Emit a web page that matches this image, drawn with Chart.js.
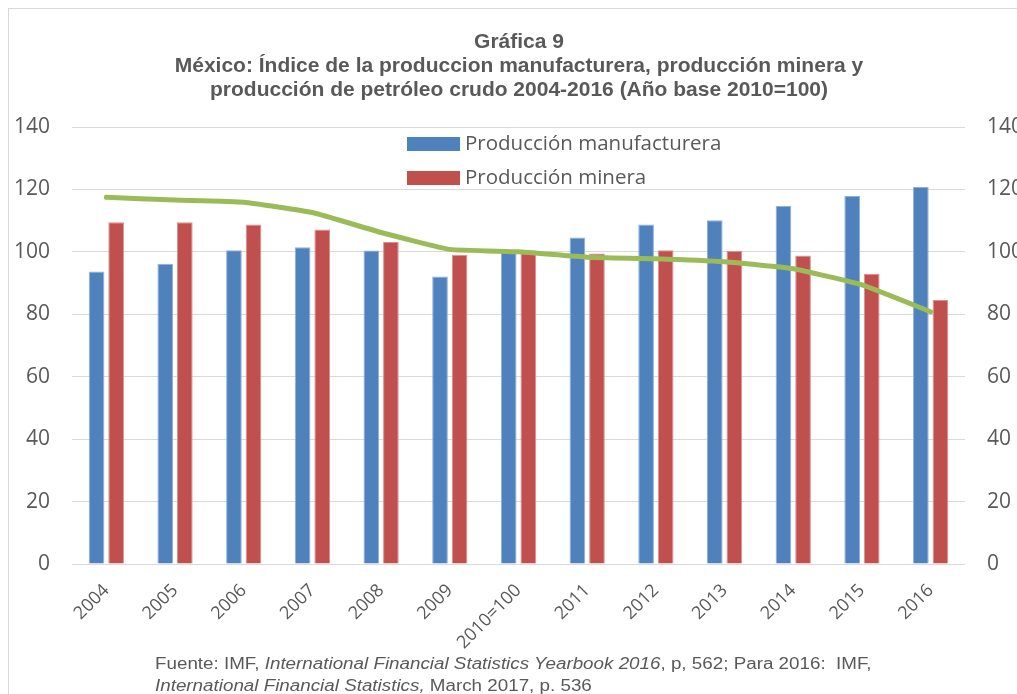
<!DOCTYPE html>
<html lang="es">
<head>
<meta charset="utf-8">
<title>Gráfica 9</title>
<script src="https://cdn.jsdelivr.net/npm/chart.js@4/dist/chart.umd.min.js"></script>
<style>
  html, body { margin: 0; padding: 0; background: #fff; overflow: hidden; }
  body { width: 1017px; height: 694px; position: relative; }
  #frame {
    position: absolute; left: 8px; top: 8px;
    width: 1060px; height: 700px;
    border-left: 1px solid #d9d9d9; border-top: 1px solid #d9d9d9;
  }
  #frame canvas { display: block; }
  #fuente {
    position: absolute; left: 155px; top: 653px;
    font: 16px "Liberation Sans", Arial, sans-serif;
    line-height: 22px; color: #595959; white-space: nowrap;
    transform: scaleX(1.175); transform-origin: left top;
  }
</style>
</head>
<body>
<div id="frame"><canvas id="chart" width="1060" height="700"></canvas></div>
<div id="fuente">Fuente: IMF, <i>International Financial Statistics Yearbook 2016</i>, p, 562; Para 2016:&nbsp; IMF,<br><i>International Financial Statistics,</i> March 2017, p. 536</div>
<script>
// Años (2010 es el año base)
const categorias = ['2004', '2005', '2006', '2007', '2008', '2009', '2010=100',
                    '2011', '2012', '2013', '2014', '2015', '2016'];

// Índices, base 2010 = 100
const manufacturera = [93.7, 96.2, 100.5, 101.5, 100.4, 92.1, 100, 104.6, 108.8, 110.1, 114.7, 117.9, 120.8];
const minera        = [109.5, 109.5, 108.8, 107.2, 103.2, 99.1, 100, 99.5, 100.5, 100.3, 98.8, 93.0, 84.6];
const petroleo      = [117.5, 116.6, 115.9, 112.6, 106.2, 100.8, 100, 98.3, 97.8, 96.8, 94.6, 89.4, 80.8];

// Marcas del eje vertical
const ticksEje = [0, 20, 40, 60, 80, 100, 120, 140];

const titulo = [
  'Gráfica 9',
  'México: Índice de la produccion manufacturera, producción minera y',
  'producción de petróleo crudo 2004-2016 (Año base 2010=100)'
];

const GRIS = '#595959';

// Leyenda dentro del área del gráfico, solo para las series de barras
const leyendaInterna = {
  id: 'leyendaInterna',
  afterDraw(chart) {
    const ctx = chart.ctx;
    const area = chart.chartArea;
    const x0 = area.left + 335;
    let y = area.top + 17;
    ctx.save();
    ctx.font = '20.5px "Open Sans", sans-serif';
    ctx.textBaseline = 'middle';
    ctx.textAlign = 'left';
    chart.data.datasets.forEach(ds => {
      if (ds.type !== 'bar') return;
      ctx.fillStyle = ds.backgroundColor;
      ctx.fillRect(x0, y - 7, 53, 14);
      ctx.fillStyle = GRIS;
      ctx.fillText(ds.label, x0 + 58, y);
      y += 34;
    });
    ctx.restore();
  }
};

new Chart(document.getElementById('chart'), {
  data: {
    labels: categorias,
    datasets: [
      {
        type: 'line',
        label: 'Producción de petróleo crudo',
        data: petroleo,
        yAxisID: 'y1',
        borderColor: '#9BBB59',
        borderWidth: 5,
        borderCapStyle: 'round',
        borderJoinStyle: 'round',
        pointRadius: 0,
        tension: 0.12,
        fill: false,
        order: 0
      },
      {
        type: 'bar',
        label: 'Producción manufacturera',
        data: manufacturera,
        yAxisID: 'y',
        backgroundColor: '#4F81BD',
        borderColor: '#8DB0DB',
        borderWidth: { top: 1, left: 1, right: 1, bottom: 0 },
        categoryPercentage: 0.57,
        barPercentage: 0.8,
        order: 1
      },
      {
        type: 'bar',
        label: 'Producción minera',
        data: minera,
        yAxisID: 'y',
        backgroundColor: '#C0504D',
        borderColor: '#DB8F8D',
        borderWidth: { top: 1, left: 1, right: 1, bottom: 0 },
        categoryPercentage: 0.57,
        barPercentage: 0.8,
        order: 1
      }
    ]
  },
  options: {
    responsive: false,
    animation: false,
    layout: { padding: { top: 21, left: 0, right: 40, bottom: 0 } },
    plugins: {
      legend: { display: false },
      tooltip: { enabled: false },
      title: {
        display: true,
        text: titulo,
        color: GRIS,
        font: { family: '"Liberation Sans", Arial, sans-serif', size: 21, weight: 'bold', lineHeight: 1.143 },
        padding: { top: 0, bottom: 25 }
      }
    },
    scales: {
      x: {
        grid: { display: false },
        border: { display: false },
        ticks: {
          autoSkip: false,
          maxRotation: 45,
          minRotation: 45,
          padding: 8,
          color: GRIS,
          font: { family: '"Open Sans", sans-serif', size: 18 }
        },
        afterFit(scale) { scale.height = 145; }
      },
      y: {
        position: 'left',
        min: 0, max: 140,
        afterBuildTicks(scale) { scale.ticks = ticksEje.map(v => ({ value: v })); },
        grid: { color: '#D9D9D9', lineWidth: 1, drawTicks: false },
        border: { display: false },
        ticks: {
          padding: 22,
          color: GRIS,
          font: { family: '"Open Sans", sans-serif', size: 21 }
        },
        afterFit(scale) { scale.width = 63; }
      },
      y1: {
        position: 'right',
        min: 0, max: 140,
        afterBuildTicks(scale) { scale.ticks = ticksEje.map(v => ({ value: v })); },
        grid: { display: false, drawTicks: false },
        border: { display: false },
        ticks: {
          padding: 22,
          color: GRIS,
          font: { family: '"Open Sans", sans-serif', size: 21 }
        },
        afterFit(scale) { scale.width = 64; }
      }
    }
  },
  plugins: [leyendaInterna]
});
</script>
</body>
</html>
